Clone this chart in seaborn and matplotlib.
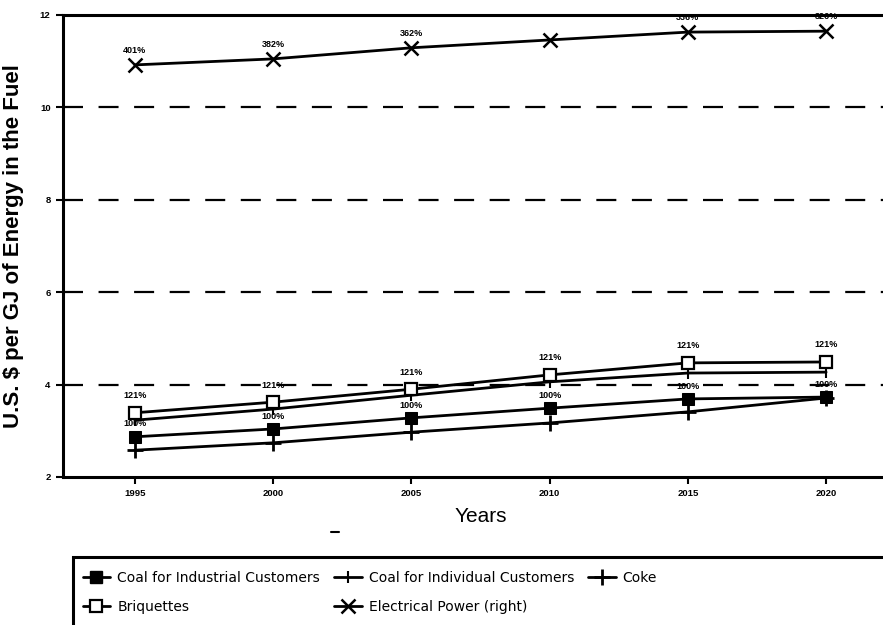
import matplotlib
matplotlib.use("Agg")
import matplotlib.pyplot as plt
import seaborn as sns
from matplotlib.lines import Line2D
from matplotlib.patches import Rectangle

# ---- data ----
years = [1995, 2000, 2005, 2010, 2015, 2020]
coal_industrial = [2.87, 3.04, 3.28, 3.49, 3.69, 3.73]
coal_individual = [3.23, 3.47, 3.77, 4.06, 4.25, 4.27]
coke = [2.58, 2.74, 2.97, 3.17, 3.41, 3.71]
briquettes = [3.39, 3.62, 3.90, 4.21, 4.47, 4.49]
electric = [10.92, 11.05, 11.29, 11.46, 11.63, 11.65]
briq_labels = ["121%", "121%", "121%", "121%", "121%", "121%"]
coal_labels = ["100%", "100%", "100%", "100%", "100%", "100%"]
elec_labels = ["401%", "382%", "362%", "", "336%", "326%"]
y_ticks = [2, 4, 6, 8, 10, 12]
x_label = "Years"
y_label = "U.S. $ per GJ of Energy in the Fuel"
names = ["Coal for Industrial Customers", "Coal for Individual Customers", "Coke",
         "Briquettes", "Electrical Power (right)"]

sns.set_style("white")
plt.rcParams["font.family"] = ["Liberation Sans", "DejaVu Sans"]
plt.rcParams["text.color"] = "black"
plt.rcParams["axes.labelcolor"] = "black"
plt.rcParams["xtick.color"] = "black"
plt.rcParams["ytick.color"] = "black"

W, H = 883, 625
fig = plt.figure(figsize=(W / 100, H / 100), dpi=100)
ax = fig.add_axes([63 / W, 1 - 477 / H, (898 - 63) / W, (477 - 15) / H])

LW = 2.0
styles = [
    (coal_industrial, dict(marker="s", markersize=9, markerfacecolor="black", markeredgecolor="black")),
    (coal_individual, dict(marker="|", markersize=9, markeredgewidth=1.5, markeredgecolor="black")),
    (coke, dict(marker="+", markersize=11, markeredgewidth=2, markeredgecolor="black")),
    (briquettes, dict(marker="s", markersize=9, markerfacecolor="white", markeredgecolor="black", markeredgewidth=1.6)),
    (electric, dict(marker="x", markersize=10, markeredgewidth=1.8, markeredgecolor="black")),
]
handles = []
for (vals, st), nm in zip(styles, names):
    sns.lineplot(x=years, y=vals, ax=ax, color="black", linewidth=LW, **st)
    handles.append(Line2D([], [], color="black", linewidth=LW, **st))

# point labels
for x, y, t in zip(years, briquettes, briq_labels):
    ax.annotate(t, (x, y), xytext=(0, 9), textcoords="offset points", ha="center",
                va="bottom", fontsize=6.5, fontweight="bold", color="black")
for x, y, t in zip(years, coal_industrial, coal_labels):
    ax.annotate(t, (x, y), xytext=(0, 6), textcoords="offset points", ha="center",
                va="bottom", fontsize=6.5, fontweight="bold", color="black")
for x, y, t in zip(years, electric, elec_labels):
    ax.annotate(t, (x, y), xytext=(0, 7), textcoords="offset points", ha="center",
                va="bottom", fontsize=6.5, fontweight="bold", color="black")

ax.set_xlim(1992.4, 2022.6)
ax.set_ylim(2, 12)
ax.set_xticks(years)
ax.set_xticklabels([str(y) for y in years], fontsize=6.8, fontweight="bold")
ax.set_yticks(y_ticks)
ax.set_yticklabels([str(y) for y in y_ticks], fontsize=6.8, fontweight="bold")
ax.tick_params(axis="both", direction="out", length=5, width=1.5, color="black",
               labelcolor="black", pad=4, left=True, bottom=True)
for y in y_ticks[1:-1]:
    ax.axhline(y, color="black", linewidth=1.6, linestyle=(0, (9, 7)), zorder=0)
for s in ax.spines.values():
    s.set_color("black")
    s.set_linewidth(2.2)

ax.set_xlabel(x_label, fontsize=15, labelpad=6, color="black")
ax.set_ylabel(y_label, fontsize=16, fontweight="bold", labelpad=11, color="black")

# small mark below axis
fig.add_artist(Line2D([331 / W, 339 / W], [1 - 532 / H, 1 - 532 / H], color="black", linewidth=1.5))

# legend box (extends beyond the crop)
fig.add_artist(Rectangle((73 / W, -0.1), 1.2, (1 - 557 / H) + 0.1, transform=fig.transFigure,
                         fill=False, edgecolor="black", linewidth=2.2))
order = [0, 3, 1, 4, 2]
leg = fig.legend([handles[i] for i in order], [names[i] for i in order], ncol=3,
                 loc="upper left", bbox_to_anchor=(77 / W, 1 - 565 / H), frameon=False,
                 prop={"family": ["DejaVu Sans"], "size": 10}, handlelength=2.0,
                 columnspacing=1.0, labelspacing=1.1, handletextpad=0.5, borderaxespad=0)
for t in leg.get_texts():
    t.set_color("black")

fig.savefig("out.png", dpi=100)
